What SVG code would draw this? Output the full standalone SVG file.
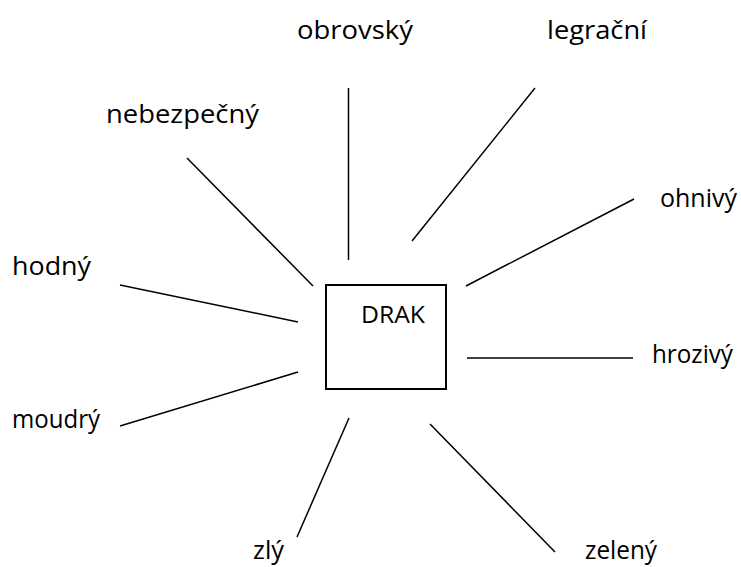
<svg xmlns="http://www.w3.org/2000/svg" width="741" height="567" viewBox="0 0 741 567">
<style>
.bg{fill:#fff}
.ln{stroke:#000;stroke-width:1.5;fill:none;stroke-linecap:butt}
.box{stroke:#000;stroke-width:2;fill:#fff}
.t{font-family:"Open Sans","Noto Sans","Liberation Sans",sans-serif;font-size:26px;fill:#000}
.d{font-family:"Open Sans","Noto Sans","Liberation Sans",sans-serif;font-size:24px;fill:#000}
</style>
<rect class="bg" x="0" y="0" width="741" height="567"/>
<g id="connectors">
<line class="ln" x1="348.5" y1="88" x2="348.5" y2="260"/>
<line class="ln" x1="535" y1="88" x2="412" y2="241"/>
<line class="ln" x1="634" y1="199" x2="466" y2="286"/>
<line class="ln" x1="467" y1="358" x2="633" y2="358"/>
<line class="ln" x1="430" y1="424" x2="555" y2="552"/>
<line class="ln" x1="349" y1="418" x2="297" y2="537"/>
<line class="ln" x1="298" y1="372" x2="120" y2="426"/>
<line class="ln" x1="120" y1="285" x2="298" y2="322"/>
<line class="ln" x1="187" y1="158" x2="313" y2="286"/>
</g>
<g id="drak">
<rect class="box" x="326" y="285" width="120" height="104"/>
<text class="d" x="361" y="323" textLength="64" lengthAdjust="spacingAndGlyphs">DRAK</text>
</g>
<g id="obrovsky"><text class="t" x="297" y="39" textLength="116" lengthAdjust="spacingAndGlyphs">obrovský</text></g>
<g id="legracni"><text class="t" x="547" y="39" textLength="100" lengthAdjust="spacingAndGlyphs">legrační</text></g>
<g id="nebezpecny"><text class="t" x="106" y="123" textLength="153" lengthAdjust="spacingAndGlyphs">nebezpečný</text></g>
<g id="hodny"><text class="t" x="12" y="275" textLength="79" lengthAdjust="spacingAndGlyphs">hodný</text></g>
<g id="ohnivy"><text class="t" x="660" y="207" textLength="77" lengthAdjust="spacingAndGlyphs">ohnivý</text></g>
<g id="hrozivy"><text class="t" x="652" y="363" textLength="81" lengthAdjust="spacingAndGlyphs">hrozivý</text></g>
<g id="moudry"><text class="t" x="12" y="428" textLength="88" lengthAdjust="spacingAndGlyphs">moudrý</text></g>
<g id="zly"><text class="t" x="253" y="559" textLength="31" lengthAdjust="spacingAndGlyphs">zlý</text></g>
<g id="zeleny"><text class="t" x="585" y="559" textLength="72" lengthAdjust="spacingAndGlyphs">zelený</text></g>
</svg>
